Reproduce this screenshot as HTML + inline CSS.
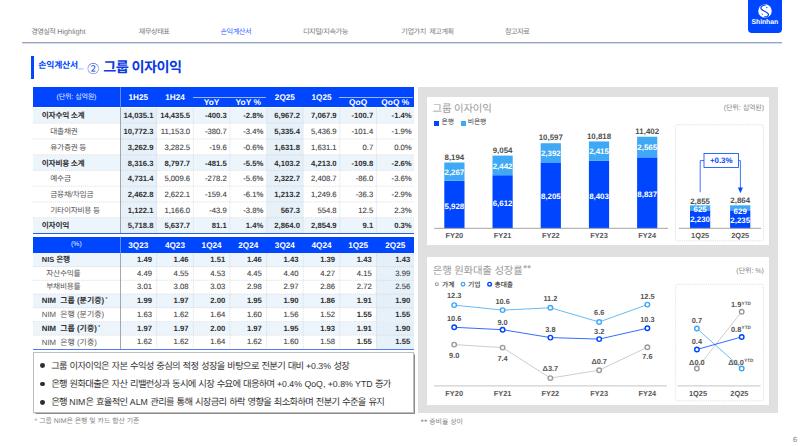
<!DOCTYPE html>
<html lang="ko"><head><meta charset="utf-8"><title>그룹 이자이익</title>
<style>
html,body{margin:0;padding:0;background:#fff}
body{width:800px;height:446px;position:relative;overflow:hidden;font-family:"Liberation Sans","Noto Sans CJK KR",sans-serif;text-rendering:geometricPrecision}
.t{position:absolute;white-space:nowrap}
.b{position:absolute;box-sizing:content-box}
.k{font-family:"Liberation Sans","Noto Sans CJK KR",sans-serif}
.n{letter-spacing:-0.5px;word-spacing:2px}
.r{letter-spacing:-0.28px}
.bu{font-size:9.3px;letter-spacing:-0.69px;word-spacing:0.8px}
</style></head><body>
<div class="t" style="left:31.30px;top:27.00px;height:10.8px;line-height:10.8px;font-size:7.2px;color:#7c7c7c;"><span class="k" style="letter-spacing:-0.66px">경영실적</span><span style="font-size:7.3px;position:relative;top:0.3px"> Highlight</span></div>
<div class="t" style="left:138.80px;top:27.00px;height:10.8px;line-height:10.8px;font-size:7.2px;color:#7c7c7c;"><span class="k n">재무상태표</span></div>
<div class="t" style="left:220.50px;top:27.00px;height:10.8px;line-height:10.8px;font-size:7.2px;color:#2f63ff;"><span class="k n">손익계산서</span></div>
<div class="t" style="left:303.00px;top:27.00px;height:10.8px;line-height:10.8px;font-size:7.2px;color:#7c7c7c;"><span class="k n">디지털</span>/<span class="k n">지속가능</span></div>
<div class="t" style="left:401.30px;top:27.00px;height:10.8px;line-height:10.8px;font-size:7.2px;color:#7c7c7c;"><span class="k n">기업가치 제고계획</span></div>
<div class="t" style="left:505.00px;top:27.00px;height:10.8px;line-height:10.8px;font-size:7.2px;color:#7c7c7c;"><span class="k n">참고자료</span></div>
<div class="b" style="left:21.50px;top:42.00px;width:760.40px;height:1.00px;background:#97a5c7;"></div>
<div class="b" style="left:21.50px;top:43.00px;width:760.40px;height:1.00px;background:#d6dbe9;"></div>
<div class="b" style="left:747.7px;top:0;width:34.2px;height:32.9px;background:#0046ff;border-radius:0 0 4px 4px"></div>
<svg class="b" style="left:756.9px;top:3.3px" width="16" height="16" viewBox="-8 -8 16 16">
<circle r="6.75" fill="#fff"/>
<path d="M0.6 -5.9C-2.4 -6.2 -4.6 -4.2 -3.9 -2.2C-3.1 0 2.3 0.6 3.3 3C4 4.8 1.9 6.3 -0.8 5.9" stroke="#0046ff" stroke-width="1.25" fill="none"/>
<circle cx="1.8" cy="-3.5" r="0.65" fill="#0046ff"/>
<path d="M-3.4 2.4L-1.8 3.3L-3.0 4.0Z" fill="#0046ff"/>
</svg>
<div class="t" style="left:764.80px;top:18.10px;height:10.4px;line-height:10.4px;font-size:6.9px;color:#fff;font-weight:700;transform:translateX(-50%);letter-spacing:-0.1px;">Shinhan</div>
<div class="b" style="left:31.00px;top:56.00px;width:2.90px;height:22.80px;background:#0046ff;"></div>
<div class="t" style="left:38.30px;top:59.05px;height:12.9px;line-height:12.9px;font-size:8.6px;color:#0046ff;font-weight:700;"><span class="k" style="font-size:8.8px;letter-spacing:-0.16px">손익계산서</span><span style="font-size:9.5px;font-weight:700;position:relative;left:0.4px;top:-0.4px">_</span></div>
<div class="t" style="left:87.30px;top:59.55px;height:17.7px;line-height:17.7px;font-size:11.8px;color:#0a3ae0;"><span class="k" style="font-family:'Noto Sans CJK KR',sans-serif">②</span></div>
<div class="t" style="left:103.30px;top:58.15px;height:21.3px;line-height:21.3px;font-size:14.2px;color:#0a3ae0;font-weight:700;"><span class="k" style="letter-spacing:-0.58px">그룹 이자이익</span></div>
<div class="b" style="left:32.80px;top:87.30px;width:381.20px;height:19.60px;background:#0046ff;"></div>
<div class="b" style="left:32.80px;top:236.70px;width:381.20px;height:16.20px;background:#0046ff;"></div>
<div class="b" style="left:32.80px;top:107.55px;width:381.20px;height:15.73px;background:#edf5fc;"></div>
<div class="b" style="left:120.00px;top:107.55px;width:36.64px;height:15.73px;background:#e4eff9;"></div>
<div class="b" style="left:266.56px;top:107.55px;width:36.64px;height:15.73px;background:#e4eff9;"></div>
<div class="t" style="left:41.80px;top:110.32px;height:11.6px;line-height:11.6px;font-size:7.7px;color:#2e2e2e;font-weight:700;"><span class="k r">이자수익 소계</span></div>
<div class="t" style="left:153.44px;top:110.32px;height:11.6px;line-height:11.6px;font-size:7.7px;color:#2e2e2e;font-weight:700;transform:translateX(-100%);">14,035.1</div>
<div class="t" style="left:190.08px;top:110.32px;height:11.6px;line-height:11.6px;font-size:7.7px;color:#2e2e2e;font-weight:700;transform:translateX(-100%);">14,435.5</div>
<div class="t" style="left:226.72px;top:110.32px;height:11.6px;line-height:11.6px;font-size:7.7px;color:#2e2e2e;font-weight:700;transform:translateX(-100%);">-400.3</div>
<div class="t" style="left:263.36px;top:110.32px;height:11.6px;line-height:11.6px;font-size:7.7px;color:#2e2e2e;font-weight:700;transform:translateX(-100%);">-2.8%</div>
<div class="t" style="left:300.00px;top:110.32px;height:11.6px;line-height:11.6px;font-size:7.7px;color:#2e2e2e;font-weight:700;transform:translateX(-100%);">6,967.2</div>
<div class="t" style="left:336.64px;top:110.32px;height:11.6px;line-height:11.6px;font-size:7.7px;color:#2e2e2e;font-weight:700;transform:translateX(-100%);">7,067.9</div>
<div class="t" style="left:373.28px;top:110.32px;height:11.6px;line-height:11.6px;font-size:7.7px;color:#2e2e2e;font-weight:700;transform:translateX(-100%);">-100.7</div>
<div class="t" style="left:411.70px;top:110.32px;height:11.6px;line-height:11.6px;font-size:7.7px;color:#2e2e2e;font-weight:700;transform:translateX(-100%);">-1.4%</div>
<div class="b" style="left:120.00px;top:123.28px;width:36.64px;height:15.73px;background:#e7f1fa;"></div>
<div class="b" style="left:266.56px;top:123.28px;width:36.64px;height:15.73px;background:#e7f1fa;"></div>
<div class="t" style="left:50.30px;top:126.05px;height:11.6px;line-height:11.6px;font-size:7.7px;color:#555;"><span class="k r">대출채권</span></div>
<div class="t" style="left:153.44px;top:126.05px;height:11.6px;line-height:11.6px;font-size:7.7px;color:#2e2e2e;font-weight:700;transform:translateX(-100%);">10,772.3</div>
<div class="t" style="left:190.08px;top:126.05px;height:11.6px;line-height:11.6px;font-size:7.7px;color:#404040;transform:translateX(-100%);-webkit-text-stroke:0.1px #404040;">11,153.0</div>
<div class="t" style="left:226.72px;top:126.05px;height:11.6px;line-height:11.6px;font-size:7.7px;color:#404040;transform:translateX(-100%);-webkit-text-stroke:0.1px #404040;">-380.7</div>
<div class="t" style="left:263.36px;top:126.05px;height:11.6px;line-height:11.6px;font-size:7.7px;color:#404040;transform:translateX(-100%);-webkit-text-stroke:0.1px #404040;">-3.4%</div>
<div class="t" style="left:300.00px;top:126.05px;height:11.6px;line-height:11.6px;font-size:7.7px;color:#2e2e2e;font-weight:700;transform:translateX(-100%);">5,335.4</div>
<div class="t" style="left:336.64px;top:126.05px;height:11.6px;line-height:11.6px;font-size:7.7px;color:#404040;transform:translateX(-100%);-webkit-text-stroke:0.1px #404040;">5,436.9</div>
<div class="t" style="left:373.28px;top:126.05px;height:11.6px;line-height:11.6px;font-size:7.7px;color:#404040;transform:translateX(-100%);-webkit-text-stroke:0.1px #404040;">-101.4</div>
<div class="t" style="left:411.70px;top:126.05px;height:11.6px;line-height:11.6px;font-size:7.7px;color:#404040;transform:translateX(-100%);-webkit-text-stroke:0.1px #404040;">-1.9%</div>
<div class="b" style="left:120.00px;top:139.01px;width:36.64px;height:15.73px;background:#e7f1fa;"></div>
<div class="b" style="left:266.56px;top:139.01px;width:36.64px;height:15.73px;background:#e7f1fa;"></div>
<div class="t" style="left:50.30px;top:141.78px;height:11.6px;line-height:11.6px;font-size:7.7px;color:#555;"><span class="k r">유가증권 등</span></div>
<div class="t" style="left:153.44px;top:141.78px;height:11.6px;line-height:11.6px;font-size:7.7px;color:#2e2e2e;font-weight:700;transform:translateX(-100%);">3,262.9</div>
<div class="t" style="left:190.08px;top:141.78px;height:11.6px;line-height:11.6px;font-size:7.7px;color:#404040;transform:translateX(-100%);-webkit-text-stroke:0.1px #404040;">3,282.5</div>
<div class="t" style="left:226.72px;top:141.78px;height:11.6px;line-height:11.6px;font-size:7.7px;color:#404040;transform:translateX(-100%);-webkit-text-stroke:0.1px #404040;">-19.6</div>
<div class="t" style="left:263.36px;top:141.78px;height:11.6px;line-height:11.6px;font-size:7.7px;color:#404040;transform:translateX(-100%);-webkit-text-stroke:0.1px #404040;">-0.6%</div>
<div class="t" style="left:300.00px;top:141.78px;height:11.6px;line-height:11.6px;font-size:7.7px;color:#2e2e2e;font-weight:700;transform:translateX(-100%);">1,631.8</div>
<div class="t" style="left:336.64px;top:141.78px;height:11.6px;line-height:11.6px;font-size:7.7px;color:#404040;transform:translateX(-100%);-webkit-text-stroke:0.1px #404040;">1,631.1</div>
<div class="t" style="left:373.28px;top:141.78px;height:11.6px;line-height:11.6px;font-size:7.7px;color:#404040;transform:translateX(-100%);-webkit-text-stroke:0.1px #404040;">0.7</div>
<div class="t" style="left:411.70px;top:141.78px;height:11.6px;line-height:11.6px;font-size:7.7px;color:#404040;transform:translateX(-100%);-webkit-text-stroke:0.1px #404040;">0.0%</div>
<div class="b" style="left:32.80px;top:154.74px;width:381.20px;height:15.73px;background:#edf5fc;"></div>
<div class="b" style="left:120.00px;top:154.74px;width:36.64px;height:15.73px;background:#e4eff9;"></div>
<div class="b" style="left:266.56px;top:154.74px;width:36.64px;height:15.73px;background:#e4eff9;"></div>
<div class="t" style="left:41.80px;top:157.50px;height:11.6px;line-height:11.6px;font-size:7.7px;color:#2e2e2e;font-weight:700;"><span class="k r">이자비용 소계</span></div>
<div class="t" style="left:153.44px;top:157.50px;height:11.6px;line-height:11.6px;font-size:7.7px;color:#2e2e2e;font-weight:700;transform:translateX(-100%);">8,316.3</div>
<div class="t" style="left:190.08px;top:157.50px;height:11.6px;line-height:11.6px;font-size:7.7px;color:#2e2e2e;font-weight:700;transform:translateX(-100%);">8,797.7</div>
<div class="t" style="left:226.72px;top:157.50px;height:11.6px;line-height:11.6px;font-size:7.7px;color:#2e2e2e;font-weight:700;transform:translateX(-100%);">-481.5</div>
<div class="t" style="left:263.36px;top:157.50px;height:11.6px;line-height:11.6px;font-size:7.7px;color:#2e2e2e;font-weight:700;transform:translateX(-100%);">-5.5%</div>
<div class="t" style="left:300.00px;top:157.50px;height:11.6px;line-height:11.6px;font-size:7.7px;color:#2e2e2e;font-weight:700;transform:translateX(-100%);">4,103.2</div>
<div class="t" style="left:336.64px;top:157.50px;height:11.6px;line-height:11.6px;font-size:7.7px;color:#2e2e2e;font-weight:700;transform:translateX(-100%);">4,213.0</div>
<div class="t" style="left:373.28px;top:157.50px;height:11.6px;line-height:11.6px;font-size:7.7px;color:#2e2e2e;font-weight:700;transform:translateX(-100%);">-109.8</div>
<div class="t" style="left:411.70px;top:157.50px;height:11.6px;line-height:11.6px;font-size:7.7px;color:#2e2e2e;font-weight:700;transform:translateX(-100%);">-2.6%</div>
<div class="b" style="left:120.00px;top:170.47px;width:36.64px;height:15.73px;background:#e7f1fa;"></div>
<div class="b" style="left:266.56px;top:170.47px;width:36.64px;height:15.73px;background:#e7f1fa;"></div>
<div class="t" style="left:50.30px;top:173.24px;height:11.6px;line-height:11.6px;font-size:7.7px;color:#555;"><span class="k r">예수금</span></div>
<div class="t" style="left:153.44px;top:173.24px;height:11.6px;line-height:11.6px;font-size:7.7px;color:#2e2e2e;font-weight:700;transform:translateX(-100%);">4,731.4</div>
<div class="t" style="left:190.08px;top:173.24px;height:11.6px;line-height:11.6px;font-size:7.7px;color:#404040;transform:translateX(-100%);-webkit-text-stroke:0.1px #404040;">5,009.6</div>
<div class="t" style="left:226.72px;top:173.24px;height:11.6px;line-height:11.6px;font-size:7.7px;color:#404040;transform:translateX(-100%);-webkit-text-stroke:0.1px #404040;">-278.2</div>
<div class="t" style="left:263.36px;top:173.24px;height:11.6px;line-height:11.6px;font-size:7.7px;color:#404040;transform:translateX(-100%);-webkit-text-stroke:0.1px #404040;">-5.6%</div>
<div class="t" style="left:300.00px;top:173.24px;height:11.6px;line-height:11.6px;font-size:7.7px;color:#2e2e2e;font-weight:700;transform:translateX(-100%);">2,322.7</div>
<div class="t" style="left:336.64px;top:173.24px;height:11.6px;line-height:11.6px;font-size:7.7px;color:#404040;transform:translateX(-100%);-webkit-text-stroke:0.1px #404040;">2,408.7</div>
<div class="t" style="left:373.28px;top:173.24px;height:11.6px;line-height:11.6px;font-size:7.7px;color:#404040;transform:translateX(-100%);-webkit-text-stroke:0.1px #404040;">-86.0</div>
<div class="t" style="left:411.70px;top:173.24px;height:11.6px;line-height:11.6px;font-size:7.7px;color:#404040;transform:translateX(-100%);-webkit-text-stroke:0.1px #404040;">-3.6%</div>
<div class="b" style="left:120.00px;top:186.20px;width:36.64px;height:15.73px;background:#e7f1fa;"></div>
<div class="b" style="left:266.56px;top:186.20px;width:36.64px;height:15.73px;background:#e7f1fa;"></div>
<div class="t" style="left:50.30px;top:188.97px;height:11.6px;line-height:11.6px;font-size:7.7px;color:#555;"><span class="k r">금융채</span>/<span class="k r">차입금</span></div>
<div class="t" style="left:153.44px;top:188.97px;height:11.6px;line-height:11.6px;font-size:7.7px;color:#2e2e2e;font-weight:700;transform:translateX(-100%);">2,462.8</div>
<div class="t" style="left:190.08px;top:188.97px;height:11.6px;line-height:11.6px;font-size:7.7px;color:#404040;transform:translateX(-100%);-webkit-text-stroke:0.1px #404040;">2,622.1</div>
<div class="t" style="left:226.72px;top:188.97px;height:11.6px;line-height:11.6px;font-size:7.7px;color:#404040;transform:translateX(-100%);-webkit-text-stroke:0.1px #404040;">-159.4</div>
<div class="t" style="left:263.36px;top:188.97px;height:11.6px;line-height:11.6px;font-size:7.7px;color:#404040;transform:translateX(-100%);-webkit-text-stroke:0.1px #404040;">-6.1%</div>
<div class="t" style="left:300.00px;top:188.97px;height:11.6px;line-height:11.6px;font-size:7.7px;color:#2e2e2e;font-weight:700;transform:translateX(-100%);">1,213.2</div>
<div class="t" style="left:336.64px;top:188.97px;height:11.6px;line-height:11.6px;font-size:7.7px;color:#404040;transform:translateX(-100%);-webkit-text-stroke:0.1px #404040;">1,249.6</div>
<div class="t" style="left:373.28px;top:188.97px;height:11.6px;line-height:11.6px;font-size:7.7px;color:#404040;transform:translateX(-100%);-webkit-text-stroke:0.1px #404040;">-36.3</div>
<div class="t" style="left:411.70px;top:188.97px;height:11.6px;line-height:11.6px;font-size:7.7px;color:#404040;transform:translateX(-100%);-webkit-text-stroke:0.1px #404040;">-2.9%</div>
<div class="b" style="left:120.00px;top:201.93px;width:36.64px;height:15.73px;background:#e7f1fa;"></div>
<div class="b" style="left:266.56px;top:201.93px;width:36.64px;height:15.73px;background:#e7f1fa;"></div>
<div class="t" style="left:50.30px;top:204.69px;height:11.6px;line-height:11.6px;font-size:7.7px;color:#555;"><span class="k r">기타이자비용 등</span></div>
<div class="t" style="left:153.44px;top:204.69px;height:11.6px;line-height:11.6px;font-size:7.7px;color:#2e2e2e;font-weight:700;transform:translateX(-100%);">1,122.1</div>
<div class="t" style="left:190.08px;top:204.69px;height:11.6px;line-height:11.6px;font-size:7.7px;color:#404040;transform:translateX(-100%);-webkit-text-stroke:0.1px #404040;">1,166.0</div>
<div class="t" style="left:226.72px;top:204.69px;height:11.6px;line-height:11.6px;font-size:7.7px;color:#404040;transform:translateX(-100%);-webkit-text-stroke:0.1px #404040;">-43.9</div>
<div class="t" style="left:263.36px;top:204.69px;height:11.6px;line-height:11.6px;font-size:7.7px;color:#404040;transform:translateX(-100%);-webkit-text-stroke:0.1px #404040;">-3.8%</div>
<div class="t" style="left:300.00px;top:204.69px;height:11.6px;line-height:11.6px;font-size:7.7px;color:#2e2e2e;font-weight:700;transform:translateX(-100%);">567.3</div>
<div class="t" style="left:336.64px;top:204.69px;height:11.6px;line-height:11.6px;font-size:7.7px;color:#404040;transform:translateX(-100%);-webkit-text-stroke:0.1px #404040;">554.8</div>
<div class="t" style="left:373.28px;top:204.69px;height:11.6px;line-height:11.6px;font-size:7.7px;color:#404040;transform:translateX(-100%);-webkit-text-stroke:0.1px #404040;">12.5</div>
<div class="t" style="left:411.70px;top:204.69px;height:11.6px;line-height:11.6px;font-size:7.7px;color:#404040;transform:translateX(-100%);-webkit-text-stroke:0.1px #404040;">2.3%</div>
<div class="b" style="left:32.80px;top:217.66px;width:381.20px;height:15.73px;background:#edf5fc;"></div>
<div class="b" style="left:120.00px;top:217.66px;width:36.64px;height:15.73px;background:#e4eff9;"></div>
<div class="b" style="left:266.56px;top:217.66px;width:36.64px;height:15.73px;background:#e4eff9;"></div>
<div class="t" style="left:41.80px;top:220.43px;height:11.6px;line-height:11.6px;font-size:7.7px;color:#2e2e2e;font-weight:700;"><span class="k r">이자이익</span></div>
<div class="t" style="left:153.44px;top:220.43px;height:11.6px;line-height:11.6px;font-size:7.7px;color:#2e2e2e;font-weight:700;transform:translateX(-100%);">5,718.8</div>
<div class="t" style="left:190.08px;top:220.43px;height:11.6px;line-height:11.6px;font-size:7.7px;color:#2e2e2e;font-weight:700;transform:translateX(-100%);">5,637.7</div>
<div class="t" style="left:226.72px;top:220.43px;height:11.6px;line-height:11.6px;font-size:7.7px;color:#2e2e2e;font-weight:700;transform:translateX(-100%);">81.1</div>
<div class="t" style="left:263.36px;top:220.43px;height:11.6px;line-height:11.6px;font-size:7.7px;color:#2e2e2e;font-weight:700;transform:translateX(-100%);">1.4%</div>
<div class="t" style="left:300.00px;top:220.43px;height:11.6px;line-height:11.6px;font-size:7.7px;color:#2e2e2e;font-weight:700;transform:translateX(-100%);">2,864.0</div>
<div class="t" style="left:336.64px;top:220.43px;height:11.6px;line-height:11.6px;font-size:7.7px;color:#2e2e2e;font-weight:700;transform:translateX(-100%);">2,854.9</div>
<div class="t" style="left:373.28px;top:220.43px;height:11.6px;line-height:11.6px;font-size:7.7px;color:#2e2e2e;font-weight:700;transform:translateX(-100%);">9.1</div>
<div class="t" style="left:411.70px;top:220.43px;height:11.6px;line-height:11.6px;font-size:7.7px;color:#2e2e2e;font-weight:700;transform:translateX(-100%);">0.3%</div>
<div class="b" style="left:32.80px;top:252.90px;width:381.20px;height:13.72px;background:#edf5fc;"></div>
<div class="b" style="left:376.48px;top:252.90px;width:37.52px;height:13.72px;background:#e4eff9;"></div>
<div class="t" style="left:41.80px;top:254.21px;height:11.1px;line-height:11.1px;font-size:7.4px;color:#2e2e2e;font-weight:700;">NIS <span class="k r" style="font-size:7.7px">은행</span></div>
<div class="t" style="left:151.94px;top:253.96px;height:11.6px;line-height:11.6px;font-size:7.7px;color:#2e2e2e;font-weight:700;transform:translateX(-100%);">1.49</div>
<div class="t" style="left:188.58px;top:253.96px;height:11.6px;line-height:11.6px;font-size:7.7px;color:#2e2e2e;font-weight:700;transform:translateX(-100%);">1.46</div>
<div class="t" style="left:225.22px;top:253.96px;height:11.6px;line-height:11.6px;font-size:7.7px;color:#2e2e2e;font-weight:700;transform:translateX(-100%);">1.51</div>
<div class="t" style="left:261.86px;top:253.96px;height:11.6px;line-height:11.6px;font-size:7.7px;color:#2e2e2e;font-weight:700;transform:translateX(-100%);">1.46</div>
<div class="t" style="left:298.50px;top:253.96px;height:11.6px;line-height:11.6px;font-size:7.7px;color:#2e2e2e;font-weight:700;transform:translateX(-100%);">1.43</div>
<div class="t" style="left:335.14px;top:253.96px;height:11.6px;line-height:11.6px;font-size:7.7px;color:#2e2e2e;font-weight:700;transform:translateX(-100%);">1.39</div>
<div class="t" style="left:371.78px;top:253.96px;height:11.6px;line-height:11.6px;font-size:7.7px;color:#2e2e2e;font-weight:700;transform:translateX(-100%);">1.43</div>
<div class="t" style="left:410.20px;top:253.96px;height:11.6px;line-height:11.6px;font-size:7.7px;color:#2e2e2e;font-weight:700;transform:translateX(-100%);">1.43</div>
<div class="b" style="left:376.48px;top:266.62px;width:37.52px;height:13.72px;background:#e7f1fa;"></div>
<div class="t" style="left:46.30px;top:267.68px;height:11.6px;line-height:11.6px;font-size:7.7px;color:#555;"><span class="k r">자산수익률</span></div>
<div class="t" style="left:151.94px;top:267.68px;height:11.6px;line-height:11.6px;font-size:7.7px;color:#404040;transform:translateX(-100%);-webkit-text-stroke:0.1px #404040;">4.49</div>
<div class="t" style="left:188.58px;top:267.68px;height:11.6px;line-height:11.6px;font-size:7.7px;color:#404040;transform:translateX(-100%);-webkit-text-stroke:0.1px #404040;">4.55</div>
<div class="t" style="left:225.22px;top:267.68px;height:11.6px;line-height:11.6px;font-size:7.7px;color:#404040;transform:translateX(-100%);-webkit-text-stroke:0.1px #404040;">4.53</div>
<div class="t" style="left:261.86px;top:267.68px;height:11.6px;line-height:11.6px;font-size:7.7px;color:#404040;transform:translateX(-100%);-webkit-text-stroke:0.1px #404040;">4.45</div>
<div class="t" style="left:298.50px;top:267.68px;height:11.6px;line-height:11.6px;font-size:7.7px;color:#404040;transform:translateX(-100%);-webkit-text-stroke:0.1px #404040;">4.40</div>
<div class="t" style="left:335.14px;top:267.68px;height:11.6px;line-height:11.6px;font-size:7.7px;color:#404040;transform:translateX(-100%);-webkit-text-stroke:0.1px #404040;">4.27</div>
<div class="t" style="left:371.78px;top:267.68px;height:11.6px;line-height:11.6px;font-size:7.7px;color:#404040;transform:translateX(-100%);-webkit-text-stroke:0.1px #404040;">4.15</div>
<div class="t" style="left:410.20px;top:267.68px;height:11.6px;line-height:11.6px;font-size:7.7px;color:#404040;transform:translateX(-100%);-webkit-text-stroke:0.1px #404040;">3.99</div>
<div class="b" style="left:376.48px;top:280.34px;width:37.52px;height:13.72px;background:#e7f1fa;"></div>
<div class="t" style="left:46.30px;top:281.40px;height:11.6px;line-height:11.6px;font-size:7.7px;color:#555;"><span class="k r">부채비용률</span></div>
<div class="t" style="left:151.94px;top:281.40px;height:11.6px;line-height:11.6px;font-size:7.7px;color:#404040;transform:translateX(-100%);-webkit-text-stroke:0.1px #404040;">3.01</div>
<div class="t" style="left:188.58px;top:281.40px;height:11.6px;line-height:11.6px;font-size:7.7px;color:#404040;transform:translateX(-100%);-webkit-text-stroke:0.1px #404040;">3.08</div>
<div class="t" style="left:225.22px;top:281.40px;height:11.6px;line-height:11.6px;font-size:7.7px;color:#404040;transform:translateX(-100%);-webkit-text-stroke:0.1px #404040;">3.03</div>
<div class="t" style="left:261.86px;top:281.40px;height:11.6px;line-height:11.6px;font-size:7.7px;color:#404040;transform:translateX(-100%);-webkit-text-stroke:0.1px #404040;">2.98</div>
<div class="t" style="left:298.50px;top:281.40px;height:11.6px;line-height:11.6px;font-size:7.7px;color:#404040;transform:translateX(-100%);-webkit-text-stroke:0.1px #404040;">2.97</div>
<div class="t" style="left:335.14px;top:281.40px;height:11.6px;line-height:11.6px;font-size:7.7px;color:#404040;transform:translateX(-100%);-webkit-text-stroke:0.1px #404040;">2.86</div>
<div class="t" style="left:371.78px;top:281.40px;height:11.6px;line-height:11.6px;font-size:7.7px;color:#404040;transform:translateX(-100%);-webkit-text-stroke:0.1px #404040;">2.72</div>
<div class="t" style="left:410.20px;top:281.40px;height:11.6px;line-height:11.6px;font-size:7.7px;color:#404040;transform:translateX(-100%);-webkit-text-stroke:0.1px #404040;">2.56</div>
<div class="b" style="left:32.80px;top:294.06px;width:381.20px;height:13.72px;background:#edf5fc;"></div>
<div class="b" style="left:376.48px;top:294.06px;width:37.52px;height:13.72px;background:#e4eff9;"></div>
<div class="t" style="left:41.80px;top:295.37px;height:11.1px;line-height:11.1px;font-size:7.4px;color:#2e2e2e;font-weight:700;"><span style="font-size:7.8px">NIM</span><span style="display:inline-block;width:4.2px"></span><span class="k" style="font-size:7.9px">그룹 (분기중)</span><span style="font-size:6px;position:relative;top:-2.0px;left:1.2px;font-weight:400">*</span></div>
<div class="t" style="left:151.94px;top:295.12px;height:11.6px;line-height:11.6px;font-size:7.7px;color:#2e2e2e;font-weight:700;transform:translateX(-100%);">1.99</div>
<div class="t" style="left:188.58px;top:295.12px;height:11.6px;line-height:11.6px;font-size:7.7px;color:#2e2e2e;font-weight:700;transform:translateX(-100%);">1.97</div>
<div class="t" style="left:225.22px;top:295.12px;height:11.6px;line-height:11.6px;font-size:7.7px;color:#2e2e2e;font-weight:700;transform:translateX(-100%);">2.00</div>
<div class="t" style="left:261.86px;top:295.12px;height:11.6px;line-height:11.6px;font-size:7.7px;color:#2e2e2e;font-weight:700;transform:translateX(-100%);">1.95</div>
<div class="t" style="left:298.50px;top:295.12px;height:11.6px;line-height:11.6px;font-size:7.7px;color:#2e2e2e;font-weight:700;transform:translateX(-100%);">1.90</div>
<div class="t" style="left:335.14px;top:295.12px;height:11.6px;line-height:11.6px;font-size:7.7px;color:#2e2e2e;font-weight:700;transform:translateX(-100%);">1.86</div>
<div class="t" style="left:371.78px;top:295.12px;height:11.6px;line-height:11.6px;font-size:7.7px;color:#2e2e2e;font-weight:700;transform:translateX(-100%);">1.91</div>
<div class="t" style="left:410.20px;top:295.12px;height:11.6px;line-height:11.6px;font-size:7.7px;color:#2e2e2e;font-weight:700;transform:translateX(-100%);">1.90</div>
<div class="b" style="left:376.48px;top:307.78px;width:37.52px;height:13.72px;background:#e7f1fa;"></div>
<div class="t" style="left:41.80px;top:309.09px;height:11.1px;line-height:11.1px;font-size:7.4px;color:#555;"><span style="font-size:7.8px">NIM</span><span style="display:inline-block;width:4.2px"></span><span class="k" style="font-size:7.9px">은행 (분기중)</span></div>
<div class="t" style="left:151.94px;top:308.84px;height:11.6px;line-height:11.6px;font-size:7.7px;color:#404040;transform:translateX(-100%);-webkit-text-stroke:0.1px #404040;">1.63</div>
<div class="t" style="left:188.58px;top:308.84px;height:11.6px;line-height:11.6px;font-size:7.7px;color:#404040;transform:translateX(-100%);-webkit-text-stroke:0.1px #404040;">1.62</div>
<div class="t" style="left:225.22px;top:308.84px;height:11.6px;line-height:11.6px;font-size:7.7px;color:#404040;transform:translateX(-100%);-webkit-text-stroke:0.1px #404040;">1.64</div>
<div class="t" style="left:261.86px;top:308.84px;height:11.6px;line-height:11.6px;font-size:7.7px;color:#404040;transform:translateX(-100%);-webkit-text-stroke:0.1px #404040;">1.60</div>
<div class="t" style="left:298.50px;top:308.84px;height:11.6px;line-height:11.6px;font-size:7.7px;color:#404040;transform:translateX(-100%);-webkit-text-stroke:0.1px #404040;">1.56</div>
<div class="t" style="left:335.14px;top:308.84px;height:11.6px;line-height:11.6px;font-size:7.7px;color:#404040;transform:translateX(-100%);-webkit-text-stroke:0.1px #404040;">1.52</div>
<div class="t" style="left:371.78px;top:308.84px;height:11.6px;line-height:11.6px;font-size:7.7px;color:#2e2e2e;font-weight:700;transform:translateX(-100%);">1.55</div>
<div class="t" style="left:410.20px;top:308.84px;height:11.6px;line-height:11.6px;font-size:7.7px;color:#2e2e2e;font-weight:700;transform:translateX(-100%);">1.55</div>
<div class="b" style="left:32.80px;top:321.50px;width:381.20px;height:13.72px;background:#edf5fc;"></div>
<div class="b" style="left:376.48px;top:321.50px;width:37.52px;height:13.72px;background:#e4eff9;"></div>
<div class="t" style="left:41.80px;top:322.81px;height:11.1px;line-height:11.1px;font-size:7.4px;color:#2e2e2e;font-weight:700;"><span style="font-size:7.8px">NIM</span><span style="display:inline-block;width:4.2px"></span><span class="k" style="font-size:7.9px">그룹 (기중)</span><span style="font-size:6px;position:relative;top:-2.0px;left:1.2px;font-weight:400">*</span></div>
<div class="t" style="left:151.94px;top:322.56px;height:11.6px;line-height:11.6px;font-size:7.7px;color:#2e2e2e;font-weight:700;transform:translateX(-100%);">1.97</div>
<div class="t" style="left:188.58px;top:322.56px;height:11.6px;line-height:11.6px;font-size:7.7px;color:#2e2e2e;font-weight:700;transform:translateX(-100%);">1.97</div>
<div class="t" style="left:225.22px;top:322.56px;height:11.6px;line-height:11.6px;font-size:7.7px;color:#2e2e2e;font-weight:700;transform:translateX(-100%);">2.00</div>
<div class="t" style="left:261.86px;top:322.56px;height:11.6px;line-height:11.6px;font-size:7.7px;color:#2e2e2e;font-weight:700;transform:translateX(-100%);">1.97</div>
<div class="t" style="left:298.50px;top:322.56px;height:11.6px;line-height:11.6px;font-size:7.7px;color:#2e2e2e;font-weight:700;transform:translateX(-100%);">1.95</div>
<div class="t" style="left:335.14px;top:322.56px;height:11.6px;line-height:11.6px;font-size:7.7px;color:#2e2e2e;font-weight:700;transform:translateX(-100%);">1.93</div>
<div class="t" style="left:371.78px;top:322.56px;height:11.6px;line-height:11.6px;font-size:7.7px;color:#2e2e2e;font-weight:700;transform:translateX(-100%);">1.91</div>
<div class="t" style="left:410.20px;top:322.56px;height:11.6px;line-height:11.6px;font-size:7.7px;color:#2e2e2e;font-weight:700;transform:translateX(-100%);">1.90</div>
<div class="b" style="left:376.48px;top:335.22px;width:37.52px;height:13.72px;background:#e7f1fa;"></div>
<div class="t" style="left:41.80px;top:336.53px;height:11.1px;line-height:11.1px;font-size:7.4px;color:#555;"><span style="font-size:7.8px">NIM</span><span style="display:inline-block;width:4.2px"></span><span class="k" style="font-size:7.9px">은행 (기중)</span></div>
<div class="t" style="left:151.94px;top:336.28px;height:11.6px;line-height:11.6px;font-size:7.7px;color:#404040;transform:translateX(-100%);-webkit-text-stroke:0.1px #404040;">1.62</div>
<div class="t" style="left:188.58px;top:336.28px;height:11.6px;line-height:11.6px;font-size:7.7px;color:#404040;transform:translateX(-100%);-webkit-text-stroke:0.1px #404040;">1.62</div>
<div class="t" style="left:225.22px;top:336.28px;height:11.6px;line-height:11.6px;font-size:7.7px;color:#404040;transform:translateX(-100%);-webkit-text-stroke:0.1px #404040;">1.64</div>
<div class="t" style="left:261.86px;top:336.28px;height:11.6px;line-height:11.6px;font-size:7.7px;color:#404040;transform:translateX(-100%);-webkit-text-stroke:0.1px #404040;">1.62</div>
<div class="t" style="left:298.50px;top:336.28px;height:11.6px;line-height:11.6px;font-size:7.7px;color:#404040;transform:translateX(-100%);-webkit-text-stroke:0.1px #404040;">1.60</div>
<div class="t" style="left:335.14px;top:336.28px;height:11.6px;line-height:11.6px;font-size:7.7px;color:#404040;transform:translateX(-100%);-webkit-text-stroke:0.1px #404040;">1.58</div>
<div class="t" style="left:371.78px;top:336.28px;height:11.6px;line-height:11.6px;font-size:7.7px;color:#2e2e2e;font-weight:700;transform:translateX(-100%);">1.55</div>
<div class="t" style="left:410.20px;top:336.28px;height:11.6px;line-height:11.6px;font-size:7.7px;color:#2e2e2e;font-weight:700;transform:translateX(-100%);">1.55</div>
<svg class="b" style="left:0;top:0" width="800" height="446" viewBox="0 0 800 446"><line x1="32.80" y1="123.28" x2="414.00" y2="123.28" stroke="#cfcfcf" stroke-width="0.6" stroke-dasharray="1.1 0.9"/><line x1="32.80" y1="139.01" x2="414.00" y2="139.01" stroke="#cfcfcf" stroke-width="0.6" stroke-dasharray="1.1 0.9"/><line x1="32.80" y1="154.74" x2="414.00" y2="154.74" stroke="#cfcfcf" stroke-width="0.6" stroke-dasharray="1.1 0.9"/><line x1="32.80" y1="170.47" x2="414.00" y2="170.47" stroke="#cfcfcf" stroke-width="0.6" stroke-dasharray="1.1 0.9"/><line x1="32.80" y1="186.20" x2="414.00" y2="186.20" stroke="#cfcfcf" stroke-width="0.6" stroke-dasharray="1.1 0.9"/><line x1="32.80" y1="201.93" x2="414.00" y2="201.93" stroke="#cfcfcf" stroke-width="0.6" stroke-dasharray="1.1 0.9"/><line x1="32.80" y1="217.66" x2="414.00" y2="217.66" stroke="#cfcfcf" stroke-width="0.6" stroke-dasharray="1.1 0.9"/><line x1="32.80" y1="266.62" x2="414.00" y2="266.62" stroke="#cfcfcf" stroke-width="0.6" stroke-dasharray="1.1 0.9"/><line x1="32.80" y1="280.34" x2="414.00" y2="280.34" stroke="#cfcfcf" stroke-width="0.6" stroke-dasharray="1.1 0.9"/><line x1="32.80" y1="294.06" x2="414.00" y2="294.06" stroke="#cfcfcf" stroke-width="0.6" stroke-dasharray="1.1 0.9"/><line x1="32.80" y1="307.78" x2="414.00" y2="307.78" stroke="#cfcfcf" stroke-width="0.6" stroke-dasharray="1.1 0.9"/><line x1="32.80" y1="321.50" x2="414.00" y2="321.50" stroke="#cfcfcf" stroke-width="0.6" stroke-dasharray="1.1 0.9"/><line x1="32.80" y1="335.22" x2="414.00" y2="335.22" stroke="#cfcfcf" stroke-width="0.6" stroke-dasharray="1.1 0.9"/><line x1="156.64" y1="107.55" x2="156.64" y2="233.39" stroke="#cfcfcf" stroke-width="0.6" stroke-dasharray="1.1 0.9"/><line x1="156.64" y1="252.90" x2="156.64" y2="348.94" stroke="#cfcfcf" stroke-width="0.6" stroke-dasharray="1.1 0.9"/><line x1="193.28" y1="107.55" x2="193.28" y2="233.39" stroke="#cfcfcf" stroke-width="0.6" stroke-dasharray="1.1 0.9"/><line x1="193.28" y1="252.90" x2="193.28" y2="348.94" stroke="#cfcfcf" stroke-width="0.6" stroke-dasharray="1.1 0.9"/><line x1="229.92" y1="107.55" x2="229.92" y2="233.39" stroke="#cfcfcf" stroke-width="0.6" stroke-dasharray="1.1 0.9"/><line x1="229.92" y1="252.90" x2="229.92" y2="348.94" stroke="#cfcfcf" stroke-width="0.6" stroke-dasharray="1.1 0.9"/><line x1="266.56" y1="107.55" x2="266.56" y2="233.39" stroke="#cfcfcf" stroke-width="0.6" stroke-dasharray="1.1 0.9"/><line x1="266.56" y1="252.90" x2="266.56" y2="348.94" stroke="#cfcfcf" stroke-width="0.6" stroke-dasharray="1.1 0.9"/><line x1="303.20" y1="107.55" x2="303.20" y2="233.39" stroke="#cfcfcf" stroke-width="0.6" stroke-dasharray="1.1 0.9"/><line x1="303.20" y1="252.90" x2="303.20" y2="348.94" stroke="#cfcfcf" stroke-width="0.6" stroke-dasharray="1.1 0.9"/><line x1="339.84" y1="107.55" x2="339.84" y2="233.39" stroke="#cfcfcf" stroke-width="0.6" stroke-dasharray="1.1 0.9"/><line x1="339.84" y1="252.90" x2="339.84" y2="348.94" stroke="#cfcfcf" stroke-width="0.6" stroke-dasharray="1.1 0.9"/><line x1="376.48" y1="107.55" x2="376.48" y2="233.39" stroke="#cfcfcf" stroke-width="0.6" stroke-dasharray="1.1 0.9"/><line x1="376.48" y1="252.90" x2="376.48" y2="348.94" stroke="#cfcfcf" stroke-width="0.6" stroke-dasharray="1.1 0.9"/><line x1="120.50" y1="87.30" x2="120.50" y2="106.90" stroke="#7088e8" stroke-width="1.0"/><line x1="120.50" y1="106.90" x2="120.50" y2="233.39" stroke="#a3a6ad" stroke-width="1.0"/><line x1="120.50" y1="236.70" x2="120.50" y2="252.90" stroke="#7088e8" stroke-width="1.0"/><line x1="120.50" y1="252.90" x2="120.50" y2="348.94" stroke="#a3a6ad" stroke-width="1.0"/></svg>
<div class="b" style="left:32.80px;top:233.19px;width:381.20px;height:1.10px;background:#2a5cf0;"></div>
<div class="b" style="left:32.80px;top:348.74px;width:381.20px;height:1.10px;background:#4f7df5;"></div>
<div class="t" style="left:76.40px;top:92.75px;height:10.5px;line-height:10.5px;font-size:7.0px;color:#eef2ff;transform:translateX(-50%);">(<span class="k" style="letter-spacing:-0.2px">단위</span>: <span class="k" style="letter-spacing:-0.2px">십억원</span>)</div>
<div class="t" style="left:138.32px;top:91.85px;height:12.3px;line-height:12.3px;font-size:8.2px;color:#fff;font-weight:700;transform:translateX(-50%);">1H25</div>
<div class="t" style="left:174.96px;top:91.85px;height:12.3px;line-height:12.3px;font-size:8.2px;color:#fff;font-weight:700;transform:translateX(-50%);">1H24</div>
<div class="t" style="left:284.88px;top:91.85px;height:12.3px;line-height:12.3px;font-size:8.2px;color:#fff;font-weight:700;transform:translateX(-50%);">2Q25</div>
<div class="t" style="left:321.52px;top:91.85px;height:12.3px;line-height:12.3px;font-size:8.2px;color:#fff;font-weight:700;transform:translateX(-50%);">1Q25</div>
<div class="t" style="left:211.60px;top:96.40px;height:12.6px;line-height:12.6px;font-size:8.4px;color:#fff;font-weight:700;transform:translateX(-50%);">YoY</div>
<div class="t" style="left:248.24px;top:96.40px;height:12.6px;line-height:12.6px;font-size:8.4px;color:#fff;font-weight:700;transform:translateX(-50%);">YoY %</div>
<div class="t" style="left:358.16px;top:96.40px;height:12.6px;line-height:12.6px;font-size:8.4px;color:#fff;font-weight:700;transform:translateX(-50%);">QoQ</div>
<div class="t" style="left:395.24px;top:96.40px;height:12.6px;line-height:12.6px;font-size:8.4px;color:#fff;font-weight:700;transform:translateX(-50%);">QoQ %</div>
<div class="b" style="left:192.78px;top:96.90px;width:73.58px;height:0.80px;background:rgba(255,255,255,0.6);"></div>
<div class="b" style="left:339.34px;top:96.90px;width:73.78px;height:0.80px;background:rgba(255,255,255,0.6);"></div>
<div class="t" style="left:76.40px;top:240.10px;height:10.2px;line-height:10.2px;font-size:6.8px;color:#eef2ff;transform:translateX(-50%);">(%)</div>
<div class="t" style="left:138.32px;top:239.55px;height:12.3px;line-height:12.3px;font-size:8.2px;color:#fff;font-weight:700;transform:translateX(-50%);">3Q23</div>
<div class="t" style="left:174.96px;top:239.55px;height:12.3px;line-height:12.3px;font-size:8.2px;color:#fff;font-weight:700;transform:translateX(-50%);">4Q23</div>
<div class="t" style="left:211.60px;top:239.55px;height:12.3px;line-height:12.3px;font-size:8.2px;color:#fff;font-weight:700;transform:translateX(-50%);">1Q24</div>
<div class="t" style="left:248.24px;top:239.55px;height:12.3px;line-height:12.3px;font-size:8.2px;color:#fff;font-weight:700;transform:translateX(-50%);">2Q24</div>
<div class="t" style="left:284.88px;top:239.55px;height:12.3px;line-height:12.3px;font-size:8.2px;color:#fff;font-weight:700;transform:translateX(-50%);">3Q24</div>
<div class="t" style="left:321.52px;top:239.55px;height:12.3px;line-height:12.3px;font-size:8.2px;color:#fff;font-weight:700;transform:translateX(-50%);">4Q24</div>
<div class="t" style="left:358.16px;top:239.55px;height:12.3px;line-height:12.3px;font-size:8.2px;color:#fff;font-weight:700;transform:translateX(-50%);">1Q25</div>
<div class="t" style="left:395.24px;top:239.55px;height:12.3px;line-height:12.3px;font-size:8.2px;color:#fff;font-weight:700;transform:translateX(-50%);">2Q25</div>
<div class="b" style="left:32.8px;top:352.2px;width:379.2px;height:58.9px;background:#fff;border:0.6px solid #bdbdbd;box-shadow:1.2px 1.2px 1px rgba(0,0,0,0.45)"></div>
<div class="b" style="left:40.0px;top:363.40px;width:4.8px;height:4.8px;border-radius:50%;background:#2e2e2e"></div>
<div class="t" id=bl0 style="left:51.20px;top:359.75px;height:13.1px;line-height:13.1px;font-size:8.75px;color:#333;"><span class="k bu">그룹 이자이익은 자본 수익성 중심의 적정 성장을 바탕으로 전분기 대비</span> +0.3% <span class="k bu">성장</span></div>
<div class="b" style="left:40.0px;top:381.70px;width:4.8px;height:4.8px;border-radius:50%;background:#2e2e2e"></div>
<div class="t" id=bl1 style="left:51.20px;top:378.05px;height:13.1px;line-height:13.1px;font-size:8.75px;color:#333;"><span class="k bu">은행 원화대출은 자산 리밸런싱과 동시에 시장 수요에 대응하며</span> +0.4% QoQ, +0.8% YTD <span class="k bu">증가</span></div>
<div class="b" style="left:40.0px;top:400.00px;width:4.8px;height:4.8px;border-radius:50%;background:#2e2e2e"></div>
<div class="t" id=bl2 style="left:51.20px;top:396.35px;height:13.1px;line-height:13.1px;font-size:8.75px;color:#333;"><span class="k bu">은행</span> NIM<span class="k bu">은 효율적인</span> ALM <span class="k bu">관리를 통해 시장금리 하락 영향을 최소화하며 전분기 수준을 유지</span></div>
<div class="t" id=fn1 style="left:34.60px;top:416.70px;height:10.4px;line-height:10.4px;font-size:6.9px;color:#858585;">* <span class="k">그룹</span> NIM<span class="k">은 은행 및 카드 합산 기준</span></div>
<div class="b" style="left:418.00px;top:87.00px;width:360.00px;height:326.00px;background:#e0e0e0;"></div>
<div class="b" style="left:427.00px;top:96.70px;width:342.10px;height:148.10px;background:#fff;"></div>
<div class="b" style="left:427.00px;top:257.00px;width:342.10px;height:147.70px;background:#fff;"></div>
<div class="t" style="left:432.60px;top:101.70px;height:15.6px;line-height:15.6px;font-size:10.4px;color:#9a9a9a;"><span class="k" style="letter-spacing:-0.19px">그룹 이자이익</span></div>
<div class="b" style="left:434.10px;top:120.50px;width:5.00px;height:5.00px;background:#0046ff;"></div>
<div class="t" style="left:441.60px;top:118.10px;height:10.2px;line-height:10.2px;font-size:6.8px;color:#333;"><span class="k" style="letter-spacing:-0.12px">은행</span></div>
<div class="b" style="left:460.60px;top:120.50px;width:5.00px;height:5.00px;background:#3fa9f5;"></div>
<div class="t" style="left:467.80px;top:118.10px;height:10.2px;line-height:10.2px;font-size:6.8px;color:#333;"><span class="k" style="letter-spacing:-0.12px">비은행</span></div>
<div class="t" style="left:764.00px;top:102.70px;height:10.6px;line-height:10.6px;font-size:7.1px;color:#858585;transform:translateX(-100%);">(<span class="k" style="letter-spacing:-0.2px">단위</span>: <span class="k" style="letter-spacing:-0.2px">십억원</span>)</div>
<div class="t" style="left:432.80px;top:264.45px;height:15.3px;line-height:15.3px;font-size:10.2px;color:#9a9a9a;"><span class="k" style="font-size:10.4px;letter-spacing:-0.19px">은행 원화대출 성장률</span><span style="font-size:10.5px;position:relative;top:-2.0px;left:0.4px">**</span></div>
<div class="t" style="left:764.00px;top:265.50px;height:10.6px;line-height:10.6px;font-size:7.1px;color:#858585;transform:translateX(-100%);">(<span class="k" style="letter-spacing:-0.2px">단위</span>: %)</div>
<div class="t" style="left:442.00px;top:280.50px;height:10.2px;line-height:10.2px;font-size:6.8px;color:#333;"><span class="k" style="letter-spacing:-0.12px;color:#3a3a3a;font-weight:500">가계</span></div>
<div class="t" style="left:468.00px;top:280.50px;height:10.2px;line-height:10.2px;font-size:6.8px;color:#333;"><span class="k" style="letter-spacing:-0.12px;color:#3a3a3a;font-weight:500">기업</span></div>
<div class="t" style="left:494.60px;top:280.50px;height:10.2px;line-height:10.2px;font-size:6.8px;color:#333;"><span class="k" style="letter-spacing:-0.12px;color:#3a3a3a;font-weight:500">총대출</span></div>
<svg class="b" style="left:0;top:0" width="800" height="446" viewBox="0 0 800 446" font-family="Liberation Sans, sans-serif"><rect x="444.30" y="180.70" width="20.2" height="47.60" fill="#0046ff"/><rect x="444.30" y="162.49" width="20.2" height="18.20" fill="#3fa9f5"/><text x="454.40" y="208.50" font-size="7.9" fill="#fff" text-anchor="middle" font-weight="700" >5,928</text><text x="454.40" y="174.70" font-size="7.9" fill="#fff" text-anchor="middle" font-weight="700" >2,267</text><text x="454.40" y="159.70" font-size="7.9" fill="#505050" text-anchor="middle" font-weight="700" >8,194</text><text x="454.40" y="237.93" font-size="7.4" fill="#5a5a5a" text-anchor="middle" font-weight="700" >FY20</text><rect x="492.50" y="175.21" width="20.2" height="53.09" fill="#0046ff"/><rect x="492.50" y="155.60" width="20.2" height="19.61" fill="#3fa9f5"/><text x="502.60" y="205.76" font-size="7.9" fill="#fff" text-anchor="middle" font-weight="700" >6,612</text><text x="502.60" y="168.51" font-size="7.9" fill="#fff" text-anchor="middle" font-weight="700" >2,442</text><text x="502.60" y="152.80" font-size="7.9" fill="#505050" text-anchor="middle" font-weight="700" >9,054</text><text x="502.60" y="237.93" font-size="7.4" fill="#5a5a5a" text-anchor="middle" font-weight="700" >FY21</text><rect x="540.70" y="162.41" width="20.2" height="65.89" fill="#0046ff"/><rect x="540.70" y="143.21" width="20.2" height="19.21" fill="#3fa9f5"/><text x="550.80" y="199.36" font-size="7.9" fill="#fff" text-anchor="middle" font-weight="700" >8,205</text><text x="550.80" y="155.91" font-size="7.9" fill="#fff" text-anchor="middle" font-weight="700" >2,392</text><text x="550.80" y="140.41" font-size="7.9" fill="#505050" text-anchor="middle" font-weight="700" >10,597</text><text x="550.80" y="237.93" font-size="7.4" fill="#5a5a5a" text-anchor="middle" font-weight="700" >FY22</text><rect x="588.90" y="160.82" width="20.2" height="67.48" fill="#0046ff"/><rect x="588.90" y="141.43" width="20.2" height="19.39" fill="#3fa9f5"/><text x="599.00" y="198.57" font-size="7.9" fill="#fff" text-anchor="middle" font-weight="700" >8,403</text><text x="599.00" y="154.23" font-size="7.9" fill="#fff" text-anchor="middle" font-weight="700" >2,415</text><text x="599.00" y="138.64" font-size="7.9" fill="#505050" text-anchor="middle" font-weight="700" >10,818</text><text x="599.00" y="237.93" font-size="7.4" fill="#5a5a5a" text-anchor="middle" font-weight="700" >FY23</text><rect x="637.10" y="157.34" width="20.2" height="70.96" fill="#0046ff"/><rect x="637.10" y="136.74" width="20.2" height="20.60" fill="#3fa9f5"/><text x="647.20" y="196.82" font-size="7.9" fill="#fff" text-anchor="middle" font-weight="700" >8,837</text><text x="647.20" y="150.14" font-size="7.9" fill="#fff" text-anchor="middle" font-weight="700" >2,565</text><text x="647.20" y="133.95" font-size="7.9" fill="#505050" text-anchor="middle" font-weight="700" >11,402</text><text x="647.20" y="237.93" font-size="7.4" fill="#5a5a5a" text-anchor="middle" font-weight="700" >FY24</text><line x1="434.1" y1="228.3" x2="668" y2="228.3" stroke="#9a9a9a" stroke-width="0.9"/><rect x="675.4" y="124.7" width="88.1" height="116.2" rx="1.5" fill="none" stroke="#d2d2d2" stroke-width="0.7" stroke-dasharray="1.2 1.0"/><rect x="690.00" y="210.39" width="20.2" height="17.91" fill="#0046ff"/><rect x="690.00" y="205.37" width="20.2" height="5.02" fill="#3fa9f5"/><text x="700.10" y="221.90" font-size="7.9" fill="#fff" text-anchor="middle" font-weight="700" >2,230</text><text x="700.10" y="211.90" font-size="7.9" fill="#fff" text-anchor="middle" font-weight="700" >625</text><text x="700.10" y="203.50" font-size="7.9" fill="#505050" text-anchor="middle" font-weight="700" >2,855</text><text x="700.10" y="237.93" font-size="7.4" fill="#5a5a5a" text-anchor="middle" font-weight="700" >1Q25</text><rect x="730.10" y="210.35" width="20.2" height="17.95" fill="#0046ff"/><rect x="730.10" y="205.30" width="20.2" height="5.05" fill="#3fa9f5"/><text x="740.20" y="223.20" font-size="7.9" fill="#fff" text-anchor="middle" font-weight="700" >2,235</text><text x="740.20" y="213.50" font-size="7.9" fill="#fff" text-anchor="middle" font-weight="700" >629</text><text x="740.20" y="202.60" font-size="7.9" fill="#505050" text-anchor="middle" font-weight="700" >2,864</text><text x="740.20" y="237.93" font-size="7.4" fill="#5a5a5a" text-anchor="middle" font-weight="700" >2Q25</text><line x1="678.9" y1="228.3" x2="761" y2="228.3" stroke="#9a9a9a" stroke-width="0.9"/><path d="M700.2 192.2V160.6H704M738.4 160.6H740.4V188" fill="none" stroke="#0046ff" stroke-width="0.75"/><path d="M737.9 187.6L740.4 193.3L742.9 187.6Z" fill="#0046ff"/><rect x="704" y="153.5" width="34.4" height="13.9" fill="#fff" stroke="#0046ff" stroke-width="0.8"/><text x="721.20" y="163.40" font-size="7.9" fill="#0046ff" text-anchor="middle" font-weight="700" >+0.3%</text><circle cx="436.80" cy="284.20" r="1.5" fill="#fff" stroke="#9c9c9c" stroke-width="1.05"/><circle cx="463.00" cy="284.20" r="1.8" fill="#fff" stroke="#3fa9f5" stroke-width="1.3"/><circle cx="489.60" cy="284.20" r="1.8" fill="#fff" stroke="#0046ff" stroke-width="1.4"/><line x1="434.1" y1="385.8" x2="667" y2="385.8" stroke="#d0d0d0" stroke-width="1.3"/><line x1="677.6" y1="385.8" x2="760.6" y2="385.8" stroke="#d0d0d0" stroke-width="1.3"/><rect x="675.7" y="284.3" width="87.7" height="116.6" rx="1.5" fill="none" stroke="#d2d2d2" stroke-width="0.7" stroke-dasharray="1.2 1.0"/><polyline fill="none" stroke="#b8b8b8" stroke-width="0.7" points="454.20,344.60 502.60,347.60 550.40,378.10 599.20,370.20 647.40,347.20"/><polyline fill="none" stroke="#3fa9f5" stroke-width="0.8" points="454.20,305.10 502.60,310.10 550.40,307.80 599.20,322.00 647.40,304.60"/><polyline fill="none" stroke="#0046ff" stroke-width="0.8" points="454.20,327.30 502.60,329.70 550.40,337.60 599.20,339.10 647.40,328.20"/><circle cx="454.20" cy="344.60" r="2.25" fill="#fff" stroke="#9c9c9c" stroke-width="1.45"/><circle cx="502.60" cy="347.60" r="2.25" fill="#fff" stroke="#9c9c9c" stroke-width="1.45"/><circle cx="550.40" cy="378.10" r="2.25" fill="#fff" stroke="#9c9c9c" stroke-width="1.45"/><circle cx="599.20" cy="370.20" r="2.25" fill="#fff" stroke="#9c9c9c" stroke-width="1.45"/><circle cx="647.40" cy="347.20" r="2.25" fill="#fff" stroke="#9c9c9c" stroke-width="1.45"/><circle cx="454.20" cy="305.10" r="2.25" fill="#fff" stroke="#3fa9f5" stroke-width="1.45"/><circle cx="502.60" cy="310.10" r="2.25" fill="#fff" stroke="#3fa9f5" stroke-width="1.45"/><circle cx="550.40" cy="307.80" r="2.25" fill="#fff" stroke="#3fa9f5" stroke-width="1.45"/><circle cx="599.20" cy="322.00" r="2.25" fill="#fff" stroke="#3fa9f5" stroke-width="1.45"/><circle cx="647.40" cy="304.60" r="2.25" fill="#fff" stroke="#3fa9f5" stroke-width="1.45"/><circle cx="454.20" cy="327.30" r="2.25" fill="#fff" stroke="#0046ff" stroke-width="1.45"/><circle cx="502.60" cy="329.70" r="2.25" fill="#fff" stroke="#0046ff" stroke-width="1.45"/><circle cx="550.40" cy="337.60" r="2.25" fill="#fff" stroke="#0046ff" stroke-width="1.45"/><circle cx="599.20" cy="339.10" r="2.25" fill="#fff" stroke="#0046ff" stroke-width="1.45"/><circle cx="647.40" cy="328.20" r="2.25" fill="#fff" stroke="#0046ff" stroke-width="1.45"/><text x="454.20" y="298.43" font-size="7.4" fill="#555" text-anchor="middle" font-weight="700" >12.3</text><text x="502.60" y="303.73" font-size="7.4" fill="#555" text-anchor="middle" font-weight="700" >10.6</text><text x="550.40" y="301.13" font-size="7.4" fill="#555" text-anchor="middle" font-weight="700" >11.2</text><text x="599.20" y="314.83" font-size="7.4" fill="#555" text-anchor="middle" font-weight="700" >6.6</text><text x="647.40" y="298.83" font-size="7.4" fill="#555" text-anchor="middle" font-weight="700" >12.5</text><text x="454.20" y="321.03" font-size="7.4" fill="#555" text-anchor="middle" font-weight="700" >10.6</text><text x="502.60" y="325.03" font-size="7.4" fill="#555" text-anchor="middle" font-weight="700" >9.0</text><text x="550.40" y="331.93" font-size="7.4" fill="#555" text-anchor="middle" font-weight="700" >3.8</text><text x="599.20" y="333.63" font-size="7.4" fill="#555" text-anchor="middle" font-weight="700" >3.2</text><text x="647.40" y="321.83" font-size="7.4" fill="#555" text-anchor="middle" font-weight="700" >10.3</text><text x="454.20" y="357.53" font-size="7.4" fill="#555" text-anchor="middle" font-weight="700" >9.0</text><text x="502.60" y="360.53" font-size="7.4" fill="#555" text-anchor="middle" font-weight="700" >7.4</text><text x="550.40" y="370.73" font-size="7.4" fill="#555" text-anchor="middle" font-weight="700" >Δ3.7</text><text x="599.20" y="363.83" font-size="7.4" fill="#555" text-anchor="middle" font-weight="700" >Δ0.7</text><text x="647.40" y="358.83" font-size="7.4" fill="#555" text-anchor="middle" font-weight="700" >7.6</text><text x="454.20" y="395.63" font-size="7.4" fill="#5a5a5a" text-anchor="middle" font-weight="700" >FY20</text><text x="502.60" y="395.63" font-size="7.4" fill="#5a5a5a" text-anchor="middle" font-weight="700" >FY21</text><text x="550.40" y="395.63" font-size="7.4" fill="#5a5a5a" text-anchor="middle" font-weight="700" >FY22</text><text x="599.20" y="395.63" font-size="7.4" fill="#5a5a5a" text-anchor="middle" font-weight="700" >FY23</text><text x="647.40" y="395.63" font-size="7.4" fill="#5a5a5a" text-anchor="middle" font-weight="700" >FY24</text><polyline fill="none" stroke="#b8b8b8" stroke-width="0.7" points="696.90,368.50 741.70,311.70"/><polyline fill="none" stroke="#3fa9f5" stroke-width="0.8" points="696.90,328.50 741.70,368.50"/><polyline fill="none" stroke="#0046ff" stroke-width="0.8" points="696.90,349.50 741.70,336.90"/><circle cx="696.90" cy="368.50" r="2.25" fill="#fff" stroke="#9c9c9c" stroke-width="1.45"/><circle cx="741.70" cy="311.70" r="2.25" fill="#fff" stroke="#9c9c9c" stroke-width="1.45"/><circle cx="696.90" cy="328.50" r="2.25" fill="#fff" stroke="#3fa9f5" stroke-width="1.45"/><circle cx="741.70" cy="368.50" r="2.25" fill="#fff" stroke="#3fa9f5" stroke-width="1.45"/><circle cx="696.90" cy="349.50" r="2.25" fill="#fff" stroke="#0046ff" stroke-width="1.45"/><circle cx="741.70" cy="336.90" r="2.25" fill="#fff" stroke="#0046ff" stroke-width="1.45"/><text x="696.90" y="322.63" font-size="7.4" fill="#555" text-anchor="middle" font-weight="700" >0.7</text><text x="696.90" y="344.23" font-size="7.4" fill="#555" text-anchor="middle" font-weight="700" >0.4</text><text x="696.90" y="364.73" font-size="7.4" fill="#555" text-anchor="middle" font-weight="700" >Δ0.0</text><text x="731.00" y="307.23" font-size="7.4" fill="#555" text-anchor="start" font-weight="700" >1.9<tspan font-size="4.6" dy="-2.6" dx="0.3">YTD</tspan></text><text x="731.00" y="331.63" font-size="7.4" fill="#555" text-anchor="start" font-weight="700" >0.8<tspan font-size="4.6" dy="-2.6" dx="0.3">YTD</tspan></text><text x="728.30" y="364.73" font-size="7.4" fill="#555" text-anchor="start" font-weight="700" >Δ0.0<tspan font-size="4.6" dy="-2.6" dx="0.3">YTD</tspan></text><text x="698.00" y="395.83" font-size="7.4" fill="#5a5a5a" text-anchor="middle" font-weight="700" >1Q25</text><text x="739.40" y="395.83" font-size="7.4" fill="#5a5a5a" text-anchor="middle" font-weight="700" >2Q25</text></svg>
<div class="t" id=fn2 style="left:420.60px;top:415.80px;height:10.4px;line-height:10.4px;font-size:6.9px;color:#858585;"><span style="font-size:8.6px;position:relative;top:0.8px">**</span> <span class="k">증비율 상이</span></div>
<div class="t" style="left:795.00px;top:433.55px;height:11.1px;line-height:11.1px;font-size:7.4px;color:#777;transform:translateX(-50%);">6</div>
</body></html>
